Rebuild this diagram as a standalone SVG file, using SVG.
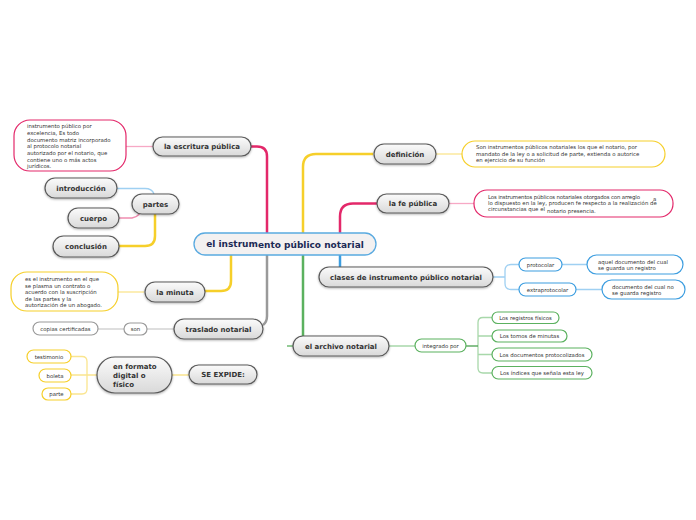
<svg xmlns="http://www.w3.org/2000/svg" width="696" height="520" viewBox="0 0 696 520">
<defs>
<linearGradient id="gg" x1="0" y1="0" x2="0" y2="1">
<stop offset="0" stop-color="#fbfbfb"/><stop offset="1" stop-color="#d9d9d9"/>
</linearGradient>
<filter id="sh" x="-10%" y="-30%" width="120%" height="170%">
<feDropShadow dx="0" dy="1" stdDeviation="0.8" flood-color="#000" flood-opacity="0.3"/>
</filter>
</defs>
<style>
.n{fill:url(#gg);stroke:#5a5a5a;stroke-width:1.2;filter:url(#sh)}
.nt{font-family:"DejaVu Sans",Verdana,sans-serif;font-size:7px;font-weight:bold;fill:#333;text-anchor:middle}
.ns{text-anchor:start}
.lt{font-family:"DejaVu Sans",Verdana,sans-serif;font-size:5.4px;fill:#333}
.c{text-anchor:middle}
.lf{fill:#fff;stroke-width:1.2}
.pk{stroke:#e3286a}.yl{stroke:#f6cf2a}.bl{stroke:#3d9ee0}.gr{stroke:#5bb15f}.gy{stroke:#9a9a9a}
.m{fill:none;stroke-width:2.5}
.s{fill:none;stroke-width:1.3}
</style>
<rect width="696" height="520" fill="#fff"/>
<g id="connectors">
<path class="m pk" d="M251 146.5H257Q267 146.5 267 156.5V233"/>
<path class="m yl" d="M373 154H316Q303 154 303 167V233"/>
<path class="m pk" d="M377 203.5H353Q340 203.5 340 216.5V233"/>
<path class="m bl" d="M340 255V267"/>
<path class="m gr" d="M303 255V336"/>
<path class="m gy" d="M267 255V316Q267 322 263 325"/>
<path class="m yl" d="M231 255V281Q231 291 221 291H205"/>
<path class="s gr" d="M287 346H293"/>
<path class="s" stroke="#f7a9c5" d="M153 146.5H126"/>
<path class="s" stroke="#9fd0f2" d="M117 188.5H145Q152 188.5 154 194"/>
<path class="s" stroke="#f08db0" d="M119 218H132Q137 217 140 213.5"/>
<path class="m" stroke="#f6cf2a" stroke-width="2" d="M119 246H145Q155 246 155 236V214"/>
<path class="s" stroke="#fae58f" d="M144 292H118"/>
<path class="s" stroke="#d4d4d4" d="M174 329H147M124 329H98"/>
<path class="s" stroke="#fae58f" d="M189 375H172M97 375H71M71 356.5H82Q87 356.5 87 361.5V389Q87 394 82 394H71"/>
<path class="s" stroke="#fae58f" d="M436 154H462"/>
<path class="s" stroke="#f7a9c5" d="M449 203.5H474"/>
<path class="s" stroke="#9fd0f2" d="M493 277H505M519 264.5H511Q505 264.5 505 270.5V283.5Q505 289.5 511 289.5H519M562 264.5H587M576 289.5H602"/>
<path class="s" stroke="#a8d8aa" d="M389 346H415M492 317.5H483Q478 317.5 478 322.5V368Q478 373 483 373H492M478 336H492M478 354.5H492"/>
<path class="s" stroke="#4a9f4e" stroke-width="1.6" d="M466 346H478"/>
</g>
<g id="central">
<rect x="194" y="233" width="182" height="22" rx="11" fill="#f3f1f1" stroke="#5aaae0" stroke-width="1.3"/>
<text x="285" y="247" font-family="DejaVu Sans,Verdana,sans-serif" font-size="9" font-weight="bold" fill="#1c2a55" text-anchor="middle">el instrum<tspan dy="1">ento público notarial</tspan></text>
</g>
<g id="escritura"><rect class="n" x="153" y="137" width="98" height="19" rx="9.5"/><text class="nt" x="202" y="149">la escritura pública</text></g>
<g id="escritura-def"><rect class="lf pk" x="14" y="120" width="112" height="51" rx="16"/>
<text class="lt" x="27"><tspan x="27" y="128">instrumento público por</tspan><tspan x="27" y="135">excelencia, Es todo</tspan><tspan x="27" y="141.7">documento matriz incorporado</tspan><tspan x="27" y="148.4">al protocolo notarial</tspan><tspan x="27" y="155">autorizado por el notario, que</tspan><tspan x="27" y="161.7">contiene uno o más actos</tspan><tspan x="27" y="168.4">jurídicos.</tspan></text></g>
<g id="introduccion"><rect class="n" x="45" y="178" width="72" height="20" rx="10"/><text class="nt" x="81" y="190.5">introducción</text></g>
<g id="partes"><rect class="n" x="132" y="194" width="47" height="20" rx="10"/><text class="nt" x="155.5" y="206.5">partes</text></g>
<g id="cuerpo"><rect class="n" x="68" y="208" width="51" height="20" rx="10"/><text class="nt" x="93.5" y="220.5">cuerpo</text></g>
<g id="conclusion"><rect class="n" x="53" y="236" width="66" height="21" rx="10.5"/><text class="nt" x="86" y="249">conclusión</text></g>
<g id="minuta-def"><rect class="lf yl" x="11" y="272" width="107" height="39" rx="16"/>
<text class="lt"><tspan x="25" y="281">es el instrumento en el que</tspan><tspan x="25" y="287.5">se plasma un contrato o</tspan><tspan x="25" y="294">acuerdo con la suscripción</tspan><tspan x="25" y="300.7">de las partes y la</tspan><tspan x="25" y="307">autorización de un abogado.</tspan></text></g>
<g id="minuta"><rect class="n" x="145" y="282" width="60" height="20" rx="10"/><text class="nt" x="175" y="294.5">la minuta</text></g>
<g id="traslado"><rect class="n" x="174" y="319" width="89" height="20" rx="10"/><text class="nt" x="218.5" y="331.5">traslado notarial</text></g>
<g id="son"><rect class="lf gy" x="124" y="323" width="23" height="12" rx="6"/><text class="lt c" x="135.5" y="331">son</text></g>
<g id="copias"><rect class="lf gy" x="33" y="322" width="65" height="13" rx="6.5"/><text class="lt c" x="65.5" y="330.5">copias certificadas</text></g>
<g id="formato"><rect class="n" x="97" y="357" width="75" height="36" rx="18"/><text class="nt ns"><tspan x="113" y="369">en formato</tspan><tspan x="113" y="378">digital o</tspan><tspan x="113" y="386.5">físico</tspan></text></g>
<g id="expide"><rect class="n" x="189" y="365" width="68" height="19" rx="9.5"/><text class="nt" x="223" y="377">SE EXPIDE:</text></g>
<g id="testimonio"><rect class="lf yl" x="27" y="350" width="44" height="13" rx="6.5"/><text class="lt c" x="49" y="358.5">testimonio</text></g>
<g id="boleta"><rect class="lf yl" x="39" y="369" width="32" height="13" rx="6.5"/><text class="lt c" x="55" y="377.5">boleta</text></g>
<g id="parte"><rect class="lf yl" x="42" y="388" width="29" height="12" rx="6"/><text class="lt c" x="56.5" y="396">parte</text></g>
<g id="definicion"><rect class="n" x="374" y="144" width="62" height="20" rx="10"/><text class="nt" x="405" y="156.5">definición</text></g>
<g id="definicion-def"><rect class="lf yl" x="462" y="141" width="203" height="26" rx="13"/>
<text class="lt"><tspan x="476" y="148.7">Son instrumentos públicos notariales los que el notario, por</tspan><tspan x="476" y="155.5">mandato de la ley o a solicitud de parte, extienda o autorice</tspan><tspan x="476" y="162">en ejercicio de su función</tspan></text></g>
<g id="fe"><rect class="n" x="377" y="194" width="72" height="19" rx="9.5"/><text class="nt" x="413" y="206">la fe pública</text></g>
<g id="fe-def"><rect class="lf pk" x="474" y="190" width="199" height="27" rx="13"/>
<text class="lt"><tspan x="488" y="198.5" textLength="152">Los instrumentos públicos notariales otorgados con arreglo</tspan><tspan x="653" y="200.7">a</tspan><tspan x="488" y="205.3">lo dispuesto en la ley, producen fe respecto a la realización de</tspan><tspan x="488" y="211">circunstancias que el</tspan><tspan x="547" y="212.7">notario presencia.</tspan></text></g>
<g id="clases"><rect class="n" x="319" y="267" width="174" height="20" rx="10"/><text class="nt" x="406" y="279.5">clases de instrumento público notarial</text></g>
<g id="protocolar"><rect class="lf bl" x="519" y="258" width="43" height="13" rx="6.5"/><text class="lt c" x="540.5" y="266.5">protocolar</text></g>
<g id="extraprotocolar"><rect class="lf bl" x="519" y="283" width="57" height="13" rx="6.5"/><text class="lt c" x="547.5" y="291.5">extraprotocolar</text></g>
<g id="protocolar-def"><rect class="lf bl" x="587" y="255" width="96" height="19" rx="9.5"/><text class="lt"><tspan x="598" y="263.5">aquel documento del cual</tspan><tspan x="598" y="269.5">se guarda un registro</tspan></text></g>
<g id="extra-def"><rect class="lf bl" x="602" y="280" width="83" height="19" rx="9.5"/><text class="lt"><tspan x="612" y="288.5">documento del cual no</tspan><tspan x="612" y="294.5">se guarda registro</tspan></text></g>
<g id="archivo"><rect class="n" x="293" y="336" width="96" height="20" rx="10"/><text class="nt" x="341" y="348.5">el archivo notarial</text></g>
<g id="integrado"><rect class="lf gr" x="415" y="339" width="51" height="13" rx="6.5"/><text class="lt c" x="440.5" y="347.5">integrado por</text></g>
<g id="registros"><rect class="lf gr" x="492" y="312" width="67" height="11.5" rx="5.7"/><text class="lt c" x="525.5" y="319.7">Los registros físicos</text></g>
<g id="tomos"><rect class="lf gr" x="492" y="330" width="75" height="12" rx="6"/><text class="lt c" x="529.5" y="338">Los tomos de minutas</text></g>
<g id="documentos"><rect class="lf gr" x="492" y="348" width="100" height="13" rx="6.5"/><text class="lt c" x="542" y="356.5">Los documentos protocolizados</text></g>
<g id="indices"><rect class="lf gr" x="492" y="366.5" width="100" height="12.5" rx="6.2"/><text class="lt c" x="542" y="374.8">Los índices que señala esta ley</text></g>
</svg>
